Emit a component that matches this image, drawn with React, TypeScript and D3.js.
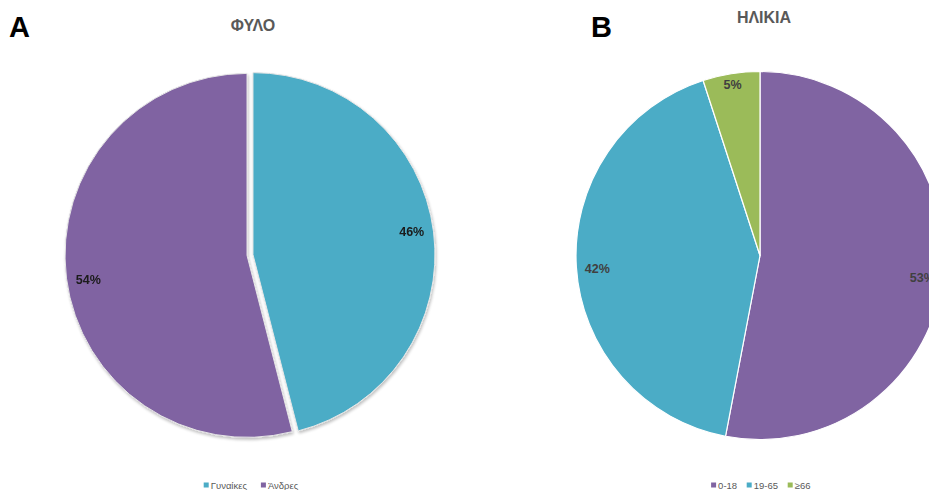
import React from "react";
import * as d3 from "d3";

const sexLabels = ["Γυναίκες", "Άνδρες"];
const sexValues = [46, 54];
const sexColors = ["#4BACC6", "#8064A2"];

const ageLabels = ["0-18", "19-65", "≥66"];
const ageValues = [53, 42, 5];
const ageColors = ["#8064A2", "#4BACC6", "#9BBB59"];

type PieProps = {
  cx: number;
  cy: number;
  r: number;
  values: number[];
  colors: string[];
  explode: number;
  labelR: number;
  labelFill: string;
  stroke: string;
  strokeW: number;
  labelOffsets?: [number, number][];
};

function Pie({ cx, cy, r, values, colors, explode, labelR, labelFill, stroke, strokeW, labelOffsets }: PieProps) {
  const pie = d3.pie<number>().sort(null).value((d) => d);
  const arcs = pie(values);
  const arc = d3.arc<d3.PieArcDatum<number>>().innerRadius(0).outerRadius(r);
  const total = d3.sum(values);
  return (
    <g transform={`translate(${cx},${cy})`}>
      {arcs.map((a, i) => {
        const mid = (a.startAngle + a.endAngle) / 2;
        const dx = explode * Math.sin(mid);
        const dy = -explode * Math.cos(mid);
        return (
          <g key={i} transform={`translate(${dx},${dy})`}>
            <path d={arc(a) || ""} fill={colors[i]} stroke={stroke} strokeWidth={strokeW} strokeLinejoin="round" />
          </g>
        );
      })}
      {arcs.map((a, i) => {
        const mid = (a.startAngle + a.endAngle) / 2;
        const off = labelOffsets ? labelOffsets[i] : [0, 0];
        const x = (labelR + explode) * Math.sin(mid) + off[0];
        const y = -(labelR + explode) * Math.cos(mid) + off[1];
        return (
          <text
            key={"l" + i}
            x={x}
            y={y}
            textAnchor="middle"
            dominantBaseline="central"
            fontFamily="Liberation Sans, Arial, sans-serif"
            fontWeight="bold"
            fontSize={12.5}
            fill={labelFill}
          >
            {Math.round((a.data / total) * 100)}%
          </text>
        );
      })}
    </g>
  );
}

function Legend({ x, y, labels, colors }: { x: number; y: number; labels: string[]; colors: string[] }) {
  const font = "Liberation Sans, Arial, sans-serif";
  const fs = 9.5;
  const widths = labels.map((l) => l.length * 5.4);
  const gap = 7;
  const sq = 5;
  const itemW = widths.map((w) => sq + 2 + w);
  const totalW = d3.sum(itemW) + gap * (labels.length - 1);
  let cur = x - totalW / 2;
  return (
    <g>
      {labels.map((l, i) => {
        const gx = cur;
        cur += itemW[i] + gap;
        return (
          <g key={i} transform={`translate(${gx},${y})`}>
            <rect x={0} y={-sq / 2} width={sq} height={sq} fill={colors[i]} />
            <text x={sq + 2} y={0} dominantBaseline="central" fontFamily={font} fontSize={fs} fill="#595959">
              {l}
            </text>
          </g>
        );
      })}
    </g>
  );
}

export default function App() {
  const font = "Liberation Sans, Arial, sans-serif";
  return (
    <svg
      width={929}
      height={490}
      style={{ position: "absolute", left: 0, top: 0, background: "#fff" }}
    >
      <defs>
        <filter id="sh" x="-10%" y="-10%" width="120%" height="120%">
          <feGaussianBlur in="SourceAlpha" stdDeviation="1.5" />
          <feOffset dx="1" dy="1.5" result="b" />
          <feComponentTransfer>
            <feFuncA type="linear" slope="0.25" />
          </feComponentTransfer>
          <feMerge>
            <feMergeNode />
            <feMergeNode in="SourceGraphic" />
          </feMerge>
        </filter>
      </defs>
      <text x={9} y={37} fontFamily={font} fontWeight="bold" fontSize={29} fill="#000">
        A
      </text>
      <text x={591} y={37} fontFamily={font} fontWeight="bold" fontSize={29} fill="#000">
        B
      </text>
      <text x={253} y={31} textAnchor="middle" fontFamily={font} fontWeight="bold" fontSize={16} fill="#595959">
        ΦΥΛΟ
      </text>
      <text x={764} y={23} textAnchor="middle" fontFamily={font} fontWeight="bold" fontSize={16} fill="#595959">
        ΗΛΙΚΙΑ
      </text>
      <g filter="url(#sh)">
        <Pie
          cx={250}
          cy={255}
          r={182}
          values={sexValues}
          colors={sexColors}
          explode={3}
          labelR={160}
          labelFill="#1a1a1a"
          stroke="#e6e6e6"
          strokeW={1}
          labelOffsets={[[0, -3], [0, 5]]}
        />
      </g>
      <Pie
        cx={760}
        cy={255.5}
        r={184}
        values={ageValues}
        colors={ageColors}
        explode={0}
        labelR={163}
        labelFill="#404040"
        stroke="#ffffff"
        strokeW={1.2}
        labelOffsets={[[0, 7], [0, 3], [-2, -10]]}
      />
      <Legend x={252} y={485} labels={sexLabels} colors={sexColors} />
      <Legend x={761} y={485} labels={ageLabels} colors={ageColors} />
    </svg>
  );
}
